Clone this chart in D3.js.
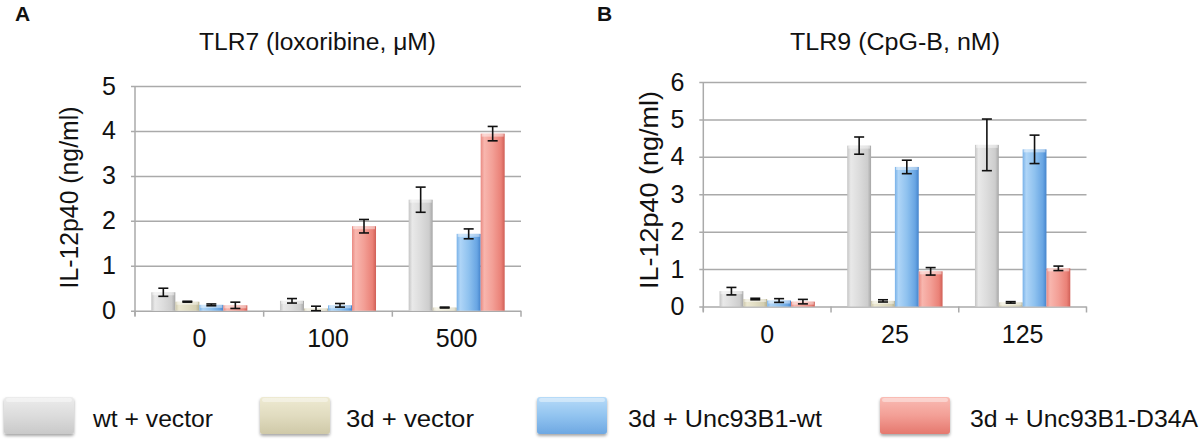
<!DOCTYPE html>
<html><head><meta charset="utf-8">
<script src="https://cdn.jsdelivr.net/npm/d3@7"></script>
<style>
html,body{margin:0;padding:0;background:#fff;}
svg text{font-family:"Liberation Sans",Arial,Helvetica,sans-serif;fill:#111;}
</style></head>
<body>
<svg id="chart" width="1200" height="446"></svg>
<script>
// ---- data ----
const seriesNames = ["wt + vector", "3d + vector", "3d + Unc93B1-wt", "3d + Unc93B1-D34A"];
const tlr7Categories = ["0", "100", "500"];
const tlr9Categories = ["0", "25", "125"];
const tlr7Ticks = [0, 1, 2, 3, 4, 5];
const tlr9Ticks = [0, 1, 2, 3, 4, 5, 6];
// TLR7 values per series (across categories) and error bars
const tlr7WtVector   = [0.41, 0.22, 2.47];
const tlr7D3Vector   = [0.20, 0.05, 0.07];
const tlr7D3Unc93Wt  = [0.13, 0.12, 1.71];
const tlr7D3Unc93D34 = [0.12, 1.88, 3.94];
const tlr7ErrWtVector   = [0.09, 0.05, 0.28];
const tlr7ErrD3Vector   = [0.01, 0.05, 0.01];
const tlr7ErrD3Unc93Wt  = [0.02, 0.04, 0.11];
const tlr7ErrD3Unc93D34 = [0.07, 0.15, 0.16];
// TLR9
const tlr9WtVector   = [0.41, 4.30, 4.32];
const tlr9D3Vector   = [0.20, 0.15, 0.11];
const tlr9D3Unc93Wt  = [0.16, 3.73, 4.20];
const tlr9D3Unc93D34 = [0.13, 0.94, 1.02];
const tlr9ErrWtVector   = [0.10, 0.23, 0.69];
const tlr9ErrD3Vector   = [0.02, 0.03, 0.02];
const tlr9ErrD3Unc93Wt  = [0.05, 0.18, 0.38];
const tlr9ErrD3Unc93D34 = [0.06, 0.10, 0.06];

const svg = d3.select("#chart");
const defs = svg.append("defs");
const FONT = '"Liberation Sans",Arial,Helvetica,sans-serif';

const gradStops = [
  ["#c4c4c4","#e9e9e9","#dcdcdc","#cdcdcd","#a6a6a6"],
  ["#cbc6ab","#ece8d1","#e1ddc3","#d4cfb2","#b3ae8e"],
  ["#78b1e8","#afd5f7","#8fc2ef","#68a5e3","#4584cc"],
  ["#e98a82","#f8b6ae","#f39f96","#ea8177","#d05f56"]
];
const legendStops = [
  ["#ececec","#dcdcdc","#c9c9c9"],
  ["#eeead2","#e1dcc0","#cfc9a8"],
  ["#b7dbf8","#92c4f0","#6ea8e2"],
  ["#f9bcb4","#f39f96","#e5786e"]
];
gradStops.forEach((st, i) => {
  const g = defs.append("linearGradient").attr("id", "bar" + i)
    .attr("x1", 0).attr("x2", 1).attr("y1", 0).attr("y2", 0);
  [0, 0.15, 0.5, 0.85, 1].forEach((o, j) => g.append("stop").attr("offset", o).attr("stop-color", st[j]));
});
legendStops.forEach((st, i) => {
  const g = defs.append("linearGradient").attr("id", "leg" + i)
    .attr("x1", 0).attr("x2", 0).attr("y1", 0).attr("y2", 1);
  [0, 0.5, 1].forEach((o, j) => g.append("stop").attr("offset", o).attr("stop-color", st[j]));
});
const f = defs.append("filter").attr("id", "shadow").attr("x", "-20%").attr("y", "-20%").attr("width", "140%").attr("height", "160%");
f.append("feDropShadow").attr("dx", 0).attr("dy", 2).attr("stdDeviation", 1.5).attr("flood-color", "#000").attr("flood-opacity", 0.35);

const gridColor = "#aaaaaa";

function panel(opt) {
  const { x0r, yr, cats, ticks, ymax, values, errors, title, titleX, titleLen, letter, letterX, ylabelX, ylabelY, ylabelLen } = opt;
  const g = svg.append("g");
  const x0 = d3.scaleBand().domain(cats).range(x0r).paddingInner(0).paddingOuter(0);
  const x1 = d3.scaleBand().domain(seriesNames).range([0, x0.bandwidth()]).paddingInner(0).paddingOuter(0.68);
  const y = d3.scaleLinear().domain([0, ymax]).range(yr);
  const w = x0r[1] - x0r[0];

  // gridlines + y tick labels
  const yAxis = d3.axisLeft(y).tickValues(ticks).tickFormat(d3.format("d"))
    .tickSizeInner(-(w + 4)).tickSizeOuter(0).tickPadding(15);
  const ga = g.append("g").attr("transform", `translate(${x0r[0] - 4},0)`).call(yAxis);
  ga.select(".domain").remove();
  ga.selectAll(".tick line").attr("stroke", gridColor).attr("stroke-width", 1.5);
  ga.selectAll(".tick text").attr("font-size", 25).attr("fill", "#111").style("font-family", FONT);
  // y axis line
  g.append("line").attr("x1", x0r[0]).attr("x2", x0r[0]).attr("y1", y(ymax)).attr("y2", y(0) + 5)
    .attr("stroke", gridColor).attr("stroke-width", 1.5);
  // x axis boundary ticks
  const bounds = cats.map(c => x0(c)).concat([x0r[1]]);
  g.selectAll(".bt").data(bounds).enter().append("line")
    .attr("x1", d => d).attr("x2", d => d).attr("y1", y(0)).attr("y2", y(0) + 6)
    .attr("stroke", gridColor).attr("stroke-width", 1.5);
  // x labels
  const xAxis = d3.axisBottom(x0).tickSize(0).tickPadding(19);
  const gx = g.append("g").attr("transform", `translate(0,${y(0)})`).call(xAxis);
  gx.select(".domain").remove();
  gx.selectAll(".tick text").attr("font-size", 25).attr("fill", "#111").style("font-family", FONT);

  // bars
  const rows = [];
  seriesNames.forEach((s, si) => cats.forEach((c, ci) => rows.push({ s, si, c, v: values[si][ci], e: errors[si][ci] })));
  const bars = g.selectAll(".bar").data(rows).enter().append("g");
  bars.append("rect")
    .attr("x", d => x0(d.c) + x1(d.s)).attr("width", x1.bandwidth())
    .attr("y", d => y(d.v)).attr("height", d => y(0) - y(d.v))
    .attr("fill", d => `url(#bar${d.si})`);
  bars.append("rect")
    .attr("x", d => x0(d.c) + x1(d.s) + 1).attr("width", x1.bandwidth() - 2)
    .attr("y", d => y(d.v)).attr("height", d => Math.min(3, y(0) - y(d.v)))
    .attr("fill", "#fff").attr("opacity", 0.45);
  // error bars
  const cx = d => x0(d.c) + x1(d.s) + x1.bandwidth() / 2;
  const eb = g.selectAll(".err").data(rows).enter().append("g").attr("stroke", "#111").attr("stroke-width", 1.6);
  eb.append("line").attr("x1", cx).attr("x2", cx).attr("y1", d => y(d.v - d.e)).attr("y2", d => y(d.v + d.e));
  eb.append("line").attr("x1", d => cx(d) - 5).attr("x2", d => cx(d) + 5).attr("y1", d => y(d.v + d.e)).attr("y2", d => y(d.v + d.e));
  eb.append("line").attr("x1", d => cx(d) - 5).attr("x2", d => cx(d) + 5).attr("y1", d => y(d.v - d.e)).attr("y2", d => y(d.v - d.e));

  // title
  svg.append("text").attr("x", titleX).attr("y", 50).attr("text-anchor", "middle")
    .attr("font-size", 23).attr("textLength", titleLen).attr("lengthAdjust", "spacingAndGlyphs").text(title);
  svg.append("text").attr("x", letterX).attr("y", 21).attr("font-size", 21).attr("font-weight", "bold").text(letter);
  // y label
  svg.append("text").attr("transform", `translate(${ylabelX},${ylabelY}) rotate(-90)`)
    .attr("text-anchor", "middle").attr("font-size", 25)
    .attr("textLength", ylabelLen).attr("lengthAdjust", "spacingAndGlyphs").text("IL-12p40 (ng/ml)");
}

panel({
  x0r: [135, 521], yr: [310.7, 86], cats: tlr7Categories, ticks: tlr7Ticks, ymax: 5,
  values: [tlr7WtVector, tlr7D3Vector, tlr7D3Unc93Wt, tlr7D3Unc93D34],
  errors: [tlr7ErrWtVector, tlr7ErrD3Vector, tlr7ErrD3Unc93Wt, tlr7ErrD3Unc93D34],
  title: "TLR7 (loxoribine, \u03BCM)", titleX: 317.5, titleLen: 237, letter: "A", letterX: 15,
  ylabelX: 78, ylabelY: 197.5, ylabelLen: 182
});
panel({
  x0r: [703.3, 1086.5], yr: [306.5, 82], cats: tlr9Categories, ticks: tlr9Ticks, ymax: 6,
  values: [tlr9WtVector, tlr9D3Vector, tlr9D3Unc93Wt, tlr9D3Unc93D34],
  errors: [tlr9ErrWtVector, tlr9ErrD3Vector, tlr9ErrD3Unc93Wt, tlr9ErrD3Unc93D34],
  title: "TLR9 (CpG-B, nM)", titleX: 895, titleLen: 210, letter: "B", letterX: 597,
  ylabelX: 658, ylabelY: 190, ylabelLen: 198
});

// legend
const legendBoxX = [4, 260, 537, 880];
const legendTextX = [93, 346, 628, 970];
const legendTextLen = [120, 128, 194, 228];
const lg = svg.append("g");
seriesNames.forEach((s, i) => {
  lg.append("rect").attr("x", legendBoxX[i]).attr("y", 397).attr("width", 70).attr("height", 37)
    .attr("rx", 3).attr("fill", `url(#leg${i})`).attr("filter", "url(#shadow)");
  lg.append("rect").attr("x", legendBoxX[i] + 2).attr("y", 398).attr("width", 66).attr("height", 4)
    .attr("rx", 2).attr("fill", "#fff").attr("opacity", 0.4);
  lg.append("text").attr("x", legendTextX[i]).attr("y", 427).attr("font-size", 24)
    .attr("textLength", legendTextLen[i]).attr("lengthAdjust", "spacingAndGlyphs").text(s);
});
</script>
</body></html>
